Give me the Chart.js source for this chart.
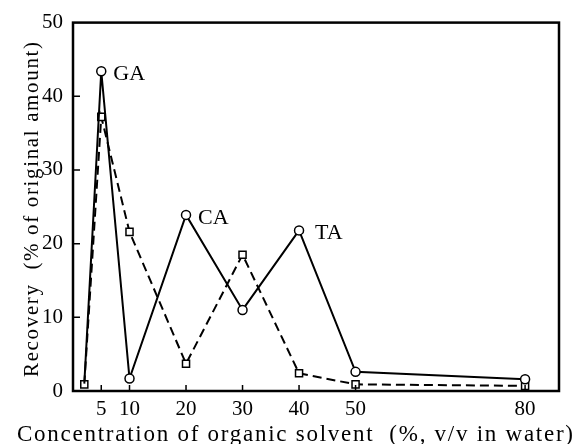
<!DOCTYPE html>
<html>
<head>
<meta charset="utf-8">
<script src="https://cdn.jsdelivr.net/npm/chart.js@4"></script>
<style>
  html, body { margin: 0; padding: 0; background: #fff; }
  #wrap { width: 576px; height: 444px; }
</style>
</head>
<body>
<div id="wrap"><canvas id="chart"></canvas></div>
<script>
// solvent concentration (%, v/v) and recovery (%) for the two series
const concCircle = [2, 5, 10, 20, 30, 40, 50, 80];
const recoveryCircle = [1.0, 43.4, 1.7, 23.9, 11.0, 21.8, 2.6, 1.6];
const concSquare = [2, 5, 10, 20, 30, 40, 50, 80];
const recoverySquare = [0.9, 37.2, 21.6, 3.7, 18.5, 2.4, 0.9, 0.7];

const xTicks = [5, 10, 20, 30, 40, 50, 80];
const yTicks = [0, 10, 20, 30, 40, 50];

const peakLabels = [
    { index: 1, text: "GA", dx: 12 },
    { index: 3, text: "CA", dx: 12 },
    { index: 5, text: "TA", dx: 16 }
];

const xTitle = "Concentration of organic solvent  (%, v/v in water)";
const yTitle = "Recovery  (% of original amount)";

const serif = '"Liberation Serif", "DejaVu Serif", serif';

const toPoints = (xs, ys) => xs.map((x, i) => ({ x, y: ys[i] }));

// text spread to fit a given width, like the typeset original
const spreadText = (ctx, text, width) => {
    ctx.letterSpacing = "0px";
    const w = ctx.measureText(text).width;
    ctx.letterSpacing = ((width - w) / (text.length - 1)) + "px";
};

const framePlugin = {
    id: "frame",
    afterDraw(chart) {
        const { ctx, chartArea: a, scales } = chart;
        ctx.save();
        ctx.strokeStyle = "#000";
        ctx.lineWidth = 2.5;
        ctx.strokeRect(a.left, a.top, a.right - a.left, a.bottom - a.top);

        // inward tick marks
        ctx.lineWidth = 1.5;
        ctx.beginPath();
        xTicks.forEach(v => {
            const px = scales.x.getPixelForValue(v);
            ctx.moveTo(px, a.bottom);
            ctx.lineTo(px, a.bottom - 6);
        });
        yTicks.slice(1, -1).forEach(v => {
            const py = scales.y.getPixelForValue(v);
            ctx.moveTo(a.left, py);
            ctx.lineTo(a.left + 7, py);
        });
        ctx.stroke();

        // peak labels
        ctx.fillStyle = "#000";
        ctx.font = "22px " + serif;
        ctx.textBaseline = "middle";
        ctx.textAlign = "left";
        const meta = chart.getDatasetMeta(0);
        peakLabels.forEach(l => {
            const pt = meta.data[l.index];
            ctx.fillText(l.text, pt.x + l.dx, pt.y + 3);
        });

        // axis titles
        ctx.textBaseline = "alphabetic";
        ctx.font = "23px " + serif;
        spreadText(ctx, xTitle, 556);
        ctx.fillText(xTitle, 17, 441);

        ctx.font = "21px " + serif;
        spreadText(ctx, yTitle, 335);
        ctx.translate(38, 377);
        ctx.rotate(-Math.PI / 2);
        ctx.fillText(yTitle, 0, 0);
        ctx.restore();
    }
};

new Chart(document.getElementById("chart"), {
    type: "line",
    data: {
        datasets: [
            {
                data: toPoints(concCircle, recoveryCircle),
                borderColor: "#000",
                borderWidth: 2,
                pointStyle: "circle",
                pointRadius: ctx => ctx.dataIndex === 0 ? 0 : 4.5,
                pointBackgroundColor: "#fff",
                pointBorderColor: "#000",
                pointBorderWidth: 1.5,
                tension: 0,
                order: 1
            },
            {
                data: toPoints(concSquare, recoverySquare),
                borderColor: "#000",
                borderWidth: 2,
                borderDash: [9, 5],
                pointStyle: "rect",
                pointRadius: 5,
                pointBackgroundColor: "#fff",
                pointBorderColor: "#000",
                pointBorderWidth: 1.5,
                tension: 0,
                order: 2
            }
        ]
    },
    options: {
        responsive: true,
        maintainAspectRatio: false,
        animation: false,
        events: [],
        layout: { padding: { top: 19, right: 17, left: 0, bottom: 0 } },
        plugins: { legend: { display: false }, tooltip: { enabled: false } },
        scales: {
            x: {
                type: "linear",
                min: 0,
                max: 86,
                afterBuildTicks: s => { s.ticks = xTicks.map(v => ({ value: v })); },
                afterFit: s => { s.height = 53; },
                grid: { display: false, drawTicks: false },
                border: { display: false },
                ticks: { color: "#000", font: { family: serif, size: 21 }, padding: 6, maxRotation: 0, autoSkip: false }
            },
            y: {
                min: 0,
                max: 50,
                afterBuildTicks: s => { s.ticks = yTicks.map(v => ({ value: v })); },
                afterFit: s => { s.width = 73; },
                grid: { display: false, drawTicks: false },
                border: { display: false },
                ticks: { color: "#000", font: { family: serif, size: 21 }, padding: 10 }
            }
        }
    },
    plugins: [framePlugin]
});
</script>
</body>
</html>
